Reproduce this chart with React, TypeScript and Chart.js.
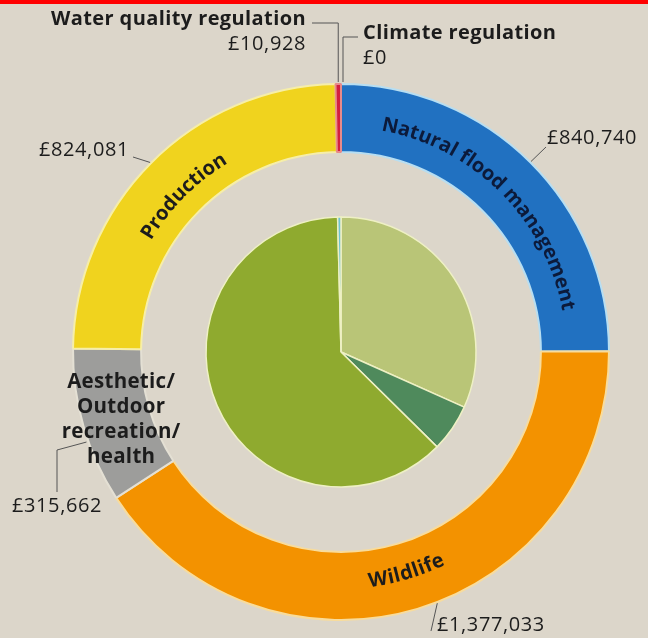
import React, { useEffect, useRef } from 'react';
import { Chart, registerables } from 'chart.js';

Chart.register(...registerables);

// ---- Data ----
const outerLabels = [
  'Natural flood management',
  'Wildlife',
  'Aesthetic/Outdoor recreation/health',
  'Production',
  'Water quality regulation',
  'Climate regulation',
];
const outerValues = [840740, 1377033, 315662, 824081, 10928, 0];
const outerValueText = ['£840,740', '£1,377,033', '£315,662', '£824,081', '£10,928', '£0'];

const innerLabels = ['Share A', 'Share B', 'Share C', 'Share D'];
const innerValues = [31.7, 5.7, 62.2, 0.4];

// ---- Styles ----
const BG = '#dcd6ca';
const outerColors = ['#2171c1', '#f39200', '#9d9d9b', '#f0d31e', '#d3203e', '#5fc4e0'];
const outerBorders = ['#b7def2', '#f8dc9c', '#e4e0d4', '#f6eea8', '#e88a8a', '#aee0ee'];
const innerColors = ['#b9c577', '#4f8a5c', '#8faa2f', '#6cc3d4'];
const TEXT = '#1c1c1c';
const FONT = '"Open Sans", "DejaVu Sans", sans-serif';

const PADDING = { left: 40, right: 6, top: 70, bottom: 4 };

function curvedText(
  ctx: CanvasRenderingContext2D,
  text: string,
  cx: number,
  cy: number,
  r: number,
  mid: number,
  clockwise: boolean,
) {
  const dir = clockwise ? 1 : -1;
  const total = ctx.measureText(text).width;
  let ang = mid - (dir * total) / (2 * r);
  for (const ch of text) {
    const w = ctx.measureText(ch).width;
    const a = ang + (dir * w) / (2 * r);
    ctx.save();
    ctx.translate(cx + r * Math.cos(a), cy + r * Math.sin(a));
    ctx.rotate(clockwise ? a + Math.PI / 2 : a - Math.PI / 2);
    ctx.fillText(ch, 0, 0);
    ctx.restore();
    ang += (dir * w) / r;
  }
}

const ringLabelPlugin = {
  id: 'ringLabels',
  afterDraw(chart: any) {
    const ctx: any = chart.ctx;
    const arcs = chart.getDatasetMeta(0).data;
    const P = (i: number) =>
      arcs[i].getProps(['x', 'y', 'startAngle', 'endAngle', 'innerRadius', 'outerRadius'], true);
    const at = (i: number, t: number, rr?: number) => {
      const p = P(i);
      const a = p.startAngle + (p.endAngle - p.startAngle) * t;
      const r = rr === undefined ? p.outerRadius : rr;
      return { x: p.x + r * Math.cos(a), y: p.y + r * Math.sin(a), a, p };
    };

    ctx.save();
    ctx.textAlign = 'center';
    ctx.textBaseline = 'middle';

    // Curved segment names
    const p0 = P(0);
    const midR = (p0.innerRadius + p0.outerRadius) / 2 - 3;
    ctx.font = `700 20px ${FONT}`;
    ctx.letterSpacing = '0.3px';
    ctx.fillStyle = '#0c1a3a';
    curvedText(ctx, outerLabels[0], p0.x, p0.y, midR, (p0.startAngle + p0.endAngle) / 2, true);

    const p1 = P(1);
    ctx.fillStyle = TEXT;
    curvedText(ctx, outerLabels[1], p1.x, p1.y, midR, (p1.startAngle + p1.endAngle) / 2, false);

    const p3 = P(3);
    curvedText(ctx, outerLabels[3], p3.x, p3.y, midR - 5, (p3.startAngle + p3.endAngle) / 2, true);

    // Aesthetic label (horizontal, multi-line)
    const g = at(2, 0.5, midR + 2);
    ctx.font = `700 20.5px ${FONT}`;
    ctx.letterSpacing = '0.3px';
    const lines = ['Aesthetic/', 'Outdoor', 'recreation/', 'health'];
    lines.forEach((l, k) => ctx.fillText(l, g.x + 4, g.y - 34 + k * 24.7));

    // Value labels and leader lines
    ctx.strokeStyle = '#555555';
    ctx.lineWidth = 1;
    const line = (pts: { x: number; y: number }[]) => {
      ctx.beginPath();
      ctx.moveTo(pts[0].x, pts[0].y);
      for (let k = 1; k < pts.length; k++) ctx.lineTo(pts[k].x, pts[k].y);
      ctx.stroke();
    };

    const valueFont = `400 20px ${FONT}`;
    const nameFont = `700 20px ${FONT}`;
    ctx.font = valueFont;
    ctx.letterSpacing = '0.6px';
    ctx.fillStyle = TEXT;

    // Natural flood management
    ctx.textAlign = 'left';
    ctx.fillText(outerValueText[0], 547, 138);
    line([{ x: 546, y: 147 }, at(0, 0.5, P(0).outerRadius + 1)]);

    // Wildlife
    ctx.fillText(outerValueText[1], 437, 625);
    line([{ x: 431, y: 631 }, at(1, 0.47, P(1).outerRadius + 1)]);

    // Aesthetic
    ctx.fillText(outerValueText[2], 12, 506);
    line([{ x: 57, y: 492 }, { x: 57, y: 450 }, at(2, 0.4, P(2).outerRadius + 2)]);

    // Production
    ctx.textAlign = 'right';
    ctx.fillText(outerValueText[3], 129, 150);
    line([{ x: 133, y: 157 }, at(3, 0.5, P(3).outerRadius + 1)]);

    // Water quality regulation
    const wq = at(4, 0.5, P(4).outerRadius + 2);
    ctx.fillText(outerValueText[4], 306, 44);
    ctx.font = nameFont;
    ctx.letterSpacing = '0.4px';
    ctx.fillText(outerLabels[4], 306, 19);
    line([{ x: 312, y: 23 }, { x: wq.x, y: 23 }, { x: wq.x, y: wq.y }]);

    // Climate regulation
    const cr = at(5, 0.5, P(5).outerRadius + 2);
    ctx.textAlign = 'left';
    ctx.fillText(outerLabels[5], 363, 33);
    ctx.font = valueFont;
    ctx.letterSpacing = '0.6px';
    ctx.fillText(outerValueText[5], 363, 58);
    line([{ x: 358, y: 37 }, { x: cr.x + 2, y: 37 }, { x: cr.x + 2, y: cr.y }]);

    ctx.letterSpacing = '0px';
    ctx.restore();
  },
};

export default function App() {
  const outerRef = useRef<HTMLCanvasElement>(null);
  const innerRef = useRef<HTMLCanvasElement>(null);

  useEffect(() => {
    document.body.style.margin = '0';
    const common = {
      responsive: false,
      animation: false as const,
      layout: { padding: PADDING },
      plugins: { legend: { display: false }, tooltip: { enabled: false } },
    };
    const inner = new Chart(innerRef.current!, {
      type: 'pie',
      data: {
        labels: innerLabels,
        datasets: [
          {
            data: innerValues,
            backgroundColor: innerColors,
            borderColor: '#eef0c4',
            borderWidth: 1.5,
          },
        ],
      },
      options: { ...common, radius: 135 } as any,
    });
    const outer = new Chart(outerRef.current!, {
      type: 'doughnut',
      data: {
        labels: outerLabels,
        datasets: [
          {
            data: outerValues,
            backgroundColor: outerColors,
            borderColor: outerBorders,
            borderWidth: 2,
          },
        ],
      },
      options: { ...common, radius: 268, cutout: '74.6%' } as any,
      plugins: [ringLabelPlugin],
    });
    return () => {
      inner.destroy();
      outer.destroy();
    };
  }, []);

  return (
    <div
      style={{
        position: 'fixed',
        left: 0,
        top: 0,
        width: 648,
        height: 638,
        background: BG,
        overflow: 'hidden',
      }}
    >
      <div style={{ position: 'absolute', left: 0, top: 0, width: 648, height: 4, background: '#ff0000' }} />
      <canvas ref={innerRef} width={648} height={638} style={{ position: 'absolute', left: 0, top: 0 }} />
      <canvas ref={outerRef} width={648} height={638} style={{ position: 'absolute', left: 0, top: 0 }} />
    </div>
  );
}
